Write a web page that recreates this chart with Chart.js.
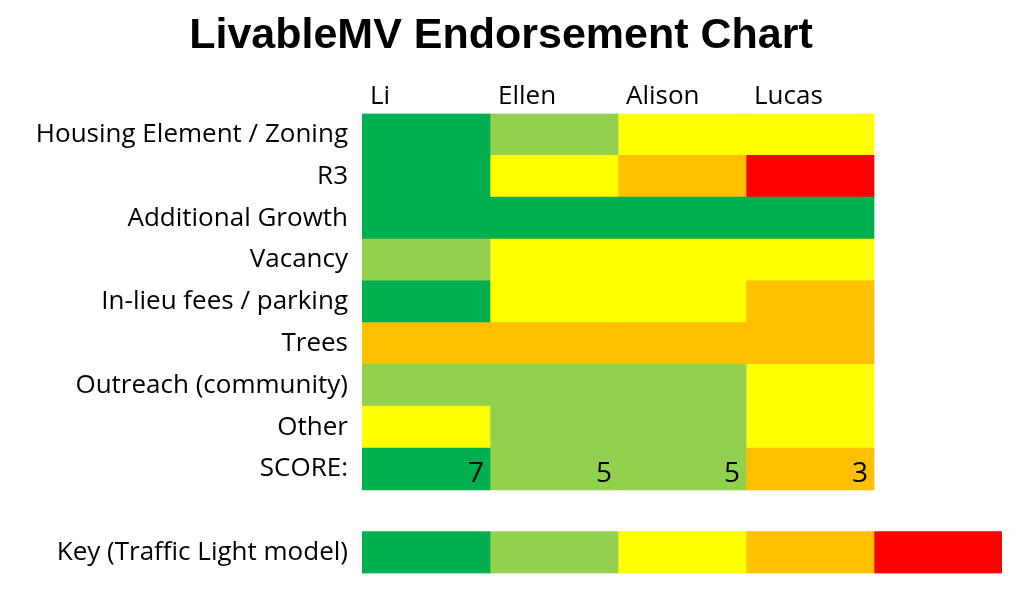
<!DOCTYPE html>
<html>
<head>
<meta charset="utf-8">
<script src="https://cdn.jsdelivr.net/npm/chart.js@4/dist/chart.umd.min.js"></script>
<style>
html,body{margin:0;padding:0;background:#fff;}
#wrap{width:1024px;height:603px;}
</style>
</head>
<body>
<div id="wrap"><canvas id="c" width="1024" height="603"></canvas></div>
<script>
// Rows (categories)
const rows = ["Housing Element / Zoning","R3","Additional Growth","Vacancy","In-lieu fees / parking","Trees","Outreach (community)","Other","SCORE:","","Key (Traffic Light model)"];
// Column headers
const candidates = ["Li","Ellen","Alison","Lucas"];
// Ratings per candidate, per row: 1 = dark green, 2 = light green, 3 = yellow, 4 = orange, 5 = red, null = empty
const li     = [1,1,1,2,1,4,2,3,1,null,1];
const ellen  = [2,3,1,3,3,4,2,2,2,null,2];
const alison = [3,4,1,3,3,4,2,2,2,null,3];
const lucas  = [3,5,1,3,4,4,3,3,4,null,4];
const keyExtra = [null,null,null,null,null,null,null,null,null,null,5];
// Scores shown in the SCORE row
const scores = [7,5,5,3];
// Traffic-light palette
const palette = {1:"#00B050",2:"#92D050",3:"#FFFF00",4:"#FFC000",5:"#FF0000"};

const FONT = "'Open Sans', 'Noto Sans', sans-serif";
const series = [li, ellen, alison, lucas, keyExtra];

const datasets = series.map((s, i) => ({
  label: i < candidates.length ? candidates[i] : "Key",
  data: s.map(v => v == null ? null : 1),
  backgroundColor: s.map(v => v == null ? "rgba(0,0,0,0)" : palette[v]),
  borderWidth: 0,
  barPercentage: 1,
  categoryPercentage: 1,
  stack: "s"
}));

const scorePlugin = {
  id: "scoreText",
  afterDatasetsDraw(chart) {
    const ctx = chart.ctx;
    const rowIdx = rows.indexOf("SCORE:");
    ctx.save();
    ctx.font = "28px " + FONT;
    ctx.fillStyle = "#000";
    ctx.textAlign = "right";
    ctx.textBaseline = "middle";
    scores.forEach((sc, i) => {
      const bar = chart.getDatasetMeta(i).data[rowIdx];
      if (!bar) return;
      const p = bar.getProps(["x","y"], true);
      ctx.fillText(String(sc), p.x - 6, p.y + 5);
    });
    ctx.restore();
  }
};

new Chart(document.getElementById("c"), {
  type: "bar",
  data: { labels: rows, datasets },
  options: {
    indexAxis: "y",
    responsive: false,
    animation: false,
    layout: { padding: { left: 0, right: 22, top: 0, bottom: 27 } },
    plugins: {
      legend: { display: false },
      tooltip: { enabled: false },
      title: {
        display: true,
        text: "LivableMV Endorsement Chart",
        color: "#000",
        font: { family: "'Liberation Sans', Arial, sans-serif", size: 43, weight: "bold" },
        padding: { top: 10, bottom: 4 }
      }
    },
    scales: {
      x: {
        type: "linear",
        position: "top",
        stacked: true,
        min: 0, max: 5,
        grid: { display: false, drawTicks: false },
        border: { display: false },
        afterFit(scale) { scale.height = 113 - 65; },
        ticks: {
          stepSize: 1,
          align: "start",
          labelOffset: 8,
          padding: 1,
          color: "#000",
          font: { family: FONT, size: 26 },
          callback: (v) => candidates[v] !== undefined ? candidates[v] : ""
        }
      },
      y: {
        stacked: true,
        grid: { display: false, drawTicks: false },
        border: { display: false },
        afterFit(scale) { scale.width = 362; },
        ticks: {
          padding: 14,
          color: "#000",
          font: { family: FONT, size: 26 },
          autoSkip: false
        }
      }
    }
  },
  plugins: [scorePlugin]
});
</script>
</body>
</html>
